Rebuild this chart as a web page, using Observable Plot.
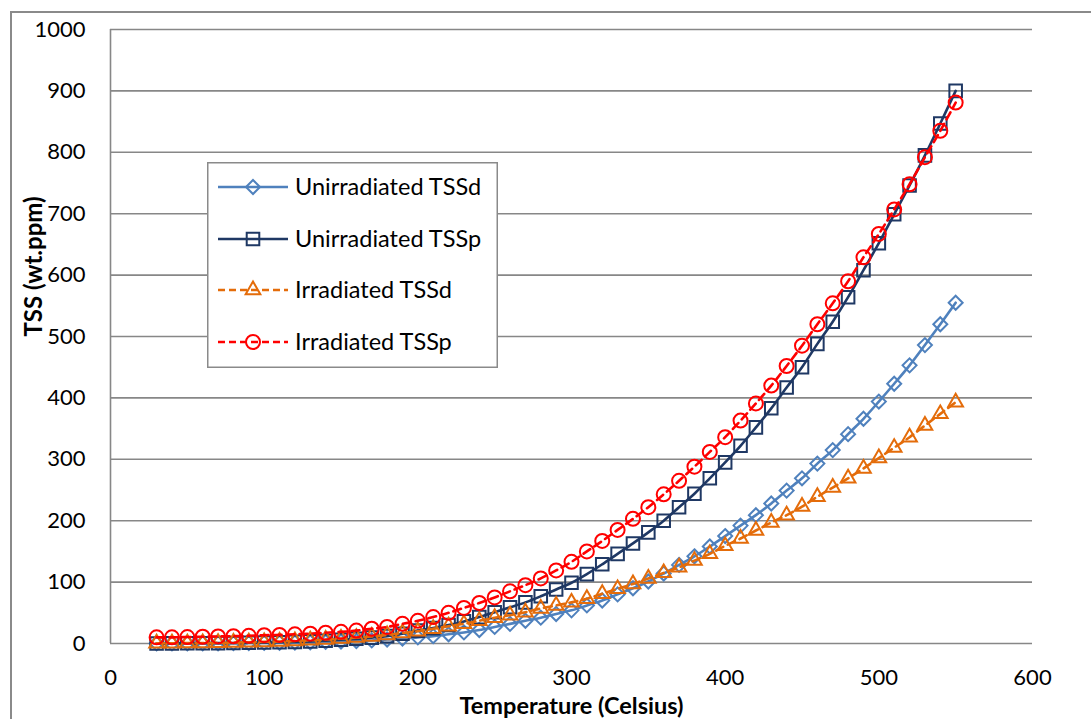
<!DOCTYPE html>
<html>
<head>
<meta charset="utf-8">
<script src="https://cdn.jsdelivr.net/npm/d3@7"></script>
<script src="https://cdn.jsdelivr.net/npm/@observablehq/plot@0.6"></script>
<style>
  html, body { margin: 0; padding: 0; background: white; }
  #wrap { position: relative; width: 1091px; height: 719px; overflow: hidden; font-family: Lato, "Open Sans", sans-serif; }
  #border { position: absolute; left: 10px; top: 11px; width: 1200px; height: 800px; border-left: 2px solid #8a8a8a; border-top: 2px solid #8a8a8a; pointer-events: none; }
  #legend { position: absolute; left: 207px; top: 162px; }
</style>
</head>
<body>
<div id="wrap">
  <div id="chart"></div>
  <div id="border"></div>
  <div id="legend"></div>
</div>
<script>
// Temperature (Celsius)
const temps = [30,40,50,60,70,80,90,100,110,120,130,140,150,160,170,180,190,200,210,220,230,240,250,260,270,280,290,300,310,320,330,340,350,360,370,380,390,400,410,420,430,440,450,460,470,480,490,500,510,520,530,540,550];

// TSS (wt.ppm)
const unirrTSSd = [0.1,0.1,0.2,0.3,0.4,0.5,0.7,1,1.2,1.6,2,2.5,3.2,4,5,6.5,8,10,12,15,18,22,27,32,37,42,48,54,62,70,80,90,101,114,128,142,158,175,192,209,228,249,269,293,315,341,366,394,423,453,486,520,555];
const unirrTSSp = [0.1,0.2,0.3,0.4,0.6,0.8,1.1,1.5,2,2.7,3.5,4.6,6,7.6,9.6,12,16,21,25,30,36,43,51,59,67,77,88,99,113,129,146,163,181,200,222,244,269,295,322,352,383,417,450,488,524,564,608,652,699,746,795,847,900];
const irrTSSd = [0.3,0.4,0.6,0.8,1.1,1.5,2,2.6,3.3,4.2,5.2,6.4,8,9.6,11.5,14,17,20,24,28,32,37,42,46,51,57,62,67,73,81,89,97,106,115,124,135,146,159,171,184,197,209,223,239,254,269,285,302,319,336,355,374,393];
const irrTSSp = [10,10,10.5,11,11.5,12,12.5,13.5,14,15,16,17.5,19,21,24,27,32,37,43,50,58,66,75,85,95,106,119,133,150,167,185,203,222,243,265,288,312,336,363,391,420,452,485,520,554,590,629,667,707,748,792,835,881];

const seriesNames = ["Unirradiated TSSd", "Unirradiated TSSp", "Irradiated TSSd", "Irradiated TSSp"];
const seriesValues = [unirrTSSd, unirrTSSp, irrTSSd, irrTSSp];
const seriesColors = ["#4f81bd", "#1f3864", "#e46c0a", "#ff0000"];
const seriesSymbols = ["diamond2", "square2", "triangle2", "circle"];
const seriesDash = [null, null, "8,5", "8,5"];

const xTicks = [0,100,200,300,400,500,600];
const yTicks = [0,100,200,300,400,500,600,700,800,900,1000];

const xTitle = "Temperature (Celsius)";
const yTitle = "TSS (wt.ppm)";

const tables = seriesValues.map((vals, i) => temps.map((t, j) => ({T: t, v: vals[j], s: seriesNames[i]})));

const symbolR = {diamond2: 6.3, square2: 8, triangle2: 7, circle: 7};

const seriesMarks = [];
tables.forEach((tbl, i) => {
  seriesMarks.push(Plot.line(tbl, {x: "T", y: "v", stroke: seriesColors[i], strokeWidth: 2.6, curve: "catmull-rom", strokeDasharray: seriesDash[i]}));
  seriesMarks.push(Plot.dot(tbl, {x: "T", y: "v", stroke: seriesColors[i], fill: "none", strokeWidth: 2, symbol: seriesSymbols[i], r: symbolR[seriesSymbols[i]]}));
});

const chart = Plot.plot({
  width: 1091,
  height: 719,
  marginLeft: 110,
  marginRight: 59,
  marginTop: 29,
  marginBottom: 76,
  x: {domain: [0, 600]},
  y: {domain: [0, 1000]},
  style: {fontFamily: "Lato, 'Open Sans', sans-serif", fontSize: "22px", color: "#000", background: "transparent", overflow: "visible"},
  marks: [
    Plot.gridY(yTicks, {stroke: "#878787", strokeOpacity: 1, strokeWidth: 1.6}),
    Plot.ruleX([0], {y1: 0, y2: 1000, stroke: "#878787", strokeWidth: 1.6}),
    Plot.axisX(xTicks, {tickSize: 0, tickPadding: 26, label: null, fontSize: 22, tickFormat: d => String(d)}),
    Plot.axisY(yTicks, {tickSize: 0, tickPadding: 25, label: null, fontSize: 22, tickFormat: d => String(d)}),
    ...seriesMarks,
    Plot.text([xTitle], {frameAnchor: "bottom", dy: 63, lineAnchor: "middle", fontSize: 23.5, fontWeight: "bold", fill: "#000"}),
    Plot.text([yTitle], {frameAnchor: "left", dx: -76, rotate: -90, lineAnchor: "middle", fontSize: 24, fontWeight: "bold", fill: "#000"})
  ]
});
document.getElementById("chart").appendChild(chart);

// Legend
const lw = 291, lh = 206;
const rowsY = [25, 77, 128, 180];
const leg = d3.select("#legend").append("svg").attr("width", lw).attr("height", lh);
leg.append("rect").attr("x", 0.75).attr("y", 0.75).attr("width", lw - 1.5).attr("height", lh - 1.5)
  .attr("fill", "white").attr("stroke", "#8a8a8a").attr("stroke-width", 1.5);
const symMap = {diamond2: d3.symbolDiamond2, square2: d3.symbolSquare2, triangle2: d3.symbolTriangle2, circle: d3.symbolCircle};
seriesNames.forEach((name, i) => {
  const g = leg.append("g").attr("transform", `translate(0,${rowsY[i]})`);
  g.append("line").attr("x1", 11).attr("x2", 81).attr("y1", 0).attr("y2", 0)
    .attr("stroke", seriesColors[i]).attr("stroke-width", 2.6)
    .attr("stroke-dasharray", seriesDash[i] ? "7,4" : null);
  const r = symbolR[seriesSymbols[i]];
  g.append("path").attr("transform", "translate(46,0)")
    .attr("d", d3.symbol(symMap[seriesSymbols[i]], Math.PI * r * r)())
    .attr("fill", "none").attr("stroke", seriesColors[i]).attr("stroke-width", 2);
  g.append("text").attr("x", 88).attr("y", 0).attr("dy", "0.35em")
    .attr("font-family", "Lato, 'Open Sans', sans-serif").attr("font-size", 23.5).attr("fill", "#000")
    .text(name);
});
</script>
</body>
</html>
